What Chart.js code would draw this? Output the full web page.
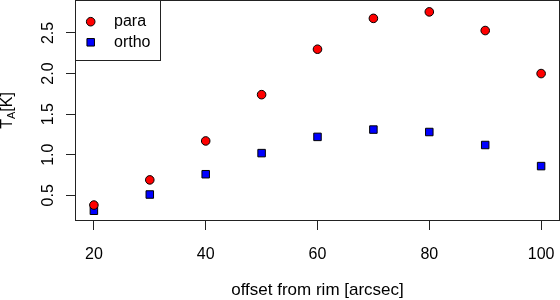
<!DOCTYPE html>
<html>
<head>
<meta charset="utf-8">
<script src="https://cdn.jsdelivr.net/npm/chart.js@4/dist/chart.umd.min.js"></script>
<style>
html,body{margin:0;padding:0;background:#fff;}
canvas{display:block;}
</style>
</head>
<body>
<canvas id="c" width="560" height="300"></canvas>
<script>
// ── DATA ─────────────────────────────
const OFFSETS = [20, 30, 40, 50, 60, 70, 80, 90, 100];
const PARA    = [0.38, 0.69, 1.17, 1.74, 2.30, 2.68, 2.76, 2.53, 2.00];
const ORTHO   = [0.31, 0.51, 0.76, 1.02, 1.22, 1.31, 1.28, 1.12, 0.86];
const X_TICKS = [20, 40, 60, 80, 100];
const Y_TICKS = [0.5, 1.0, 1.5, 2.0, 2.5];
const LABELS  = ['para', 'ortho'];

const FONT = '"Liberation Sans", Arial, sans-serif';
const INK  = '#000';
const BOX  = '#222';

const toPts = ys => OFFSETS.map((x, i) => ({x, y: ys[i]}));
const noPad = s => { s.paddingLeft = 0; s.paddingRight = 0; s.paddingTop = 0; s.paddingBottom = 0; };

// ── EXTRAS: box, rotated y labels, y title, legend ─────────
const extras = {
  id: 'extras',
  afterDraw(chart) {
    const {ctx, chartArea: a, scales: {y}} = chart;
    ctx.save();

    // plot box
    ctx.strokeStyle = BOX;
    ctx.lineWidth = 1;
    ctx.strokeRect(a.left - 0.5, a.top - 0.5, a.right - a.left + 1, a.bottom - a.top + 1);

    // y tick labels, vertical like R
    ctx.fillStyle = INK;
    ctx.font = `16px ${FONT}`;
    ctx.textAlign = 'center';
    ctx.textBaseline = 'alphabetic';
    y.ticks.forEach(t => {
      ctx.save();
      ctx.translate(53, y.getPixelForValue(t.value));
      ctx.rotate(-Math.PI / 2);
      ctx.fillText(t.value.toFixed(1), 0, 0);
      ctx.restore();
    });

    // y title T_A[K]
    const big = `16px ${FONT}`, small = `11px ${FONT}`;
    ctx.save();
    ctx.translate(12, (a.top + a.bottom) / 2);
    ctx.rotate(-Math.PI / 2);
    ctx.textAlign = 'left';
    ctx.font = big;  const wT = ctx.measureText('T').width;
    ctx.font = small; const wA = ctx.measureText('A').width;
    ctx.font = big;  const wK = ctx.measureText('[K]').width;
    let x0 = -(wT + wA + wK) / 2;
    ctx.font = big;   ctx.fillText('T', x0, 0); x0 += wT;
    ctx.font = small; ctx.fillText('A', x0, 3); x0 += wA;
    ctx.font = big;   ctx.fillText('[K]', x0, 0);
    ctx.restore();

    // legend
    const lx = a.left, ly = a.top, lw = 85, lh = 60;
    ctx.fillStyle = '#fff';
    ctx.fillRect(lx, ly, lw, lh);
    ctx.strokeStyle = BOX;
    ctx.strokeRect(lx - 0.5, ly - 0.5, lw, lh);
    chart.data.datasets.forEach((ds, i) => {
      const cy = ly + 20.7 + i * 20.6, cx = lx + 14.7;
      ctx.fillStyle = ds.backgroundColor;
      ctx.strokeStyle = ds.borderColor;
      ctx.lineWidth = 1;
      ctx.beginPath();
      if (ds.pointStyle === 'rect') {
        const s = ds.pointRadius * Math.SQRT1_2;
        ctx.rect(cx - s, cy - s, 2 * s, 2 * s);
      } else {
        ctx.arc(cx, cy, ds.pointRadius, 0, Math.PI * 2);
      }
      ctx.fill(); ctx.stroke();
      ctx.fillStyle = INK;
      ctx.font = `16px ${FONT}`;
      ctx.textAlign = 'left';
      ctx.textBaseline = 'middle';
      ctx.fillText(ds.label, lx + 38, cy);
    });
    ctx.restore();
  }
};

new Chart(document.getElementById('c'), {
  type: 'scatter',
  data: {
    datasets: [
      {label: LABELS[0], data: toPts(PARA), pointStyle: 'circle', pointRadius: 4.3,
       backgroundColor: '#ff0000', borderColor: '#000', borderWidth: 1},
      {label: LABELS[1], data: toPts(ORTHO), pointStyle: 'rect', pointRadius: 5.3,
       backgroundColor: '#0000ff', borderColor: '#000', borderWidth: 1}
    ]
  },
  options: {
    responsive: false,
    animation: false,
    devicePixelRatio: 1,
    layout: {autoPadding: false, padding: {top: 1, right: 1, left: 0, bottom: 0}},
    plugins: {legend: {display: false}, tooltip: {enabled: false}},
    scales: {
      x: {
        type: 'linear', min: 16.8, max: 103.2,
        afterBuildTicks: s => { s.ticks = X_TICKS.map(v => ({value: v})); },
        afterFit: s => { s.height = 80; noPad(s); },
        grid: {display: true, drawOnChartArea: false, drawTicks: true, tickLength: 10, color: BOX},
        border: {display: false},
        ticks: {color: INK, font: {family: FONT, size: 16}, padding: 15, maxRotation: 0,
                callback: v => String(v)},
        title: {display: true, text: 'offset from rim [arcsec]', color: INK,
                font: {family: FONT, size: 17, lineHeight: 1}, padding: {top: 0, bottom: 1}}
      },
      y: {
        type: 'linear', min: 0.196, max: 2.894,
        afterBuildTicks: s => { s.ticks = Y_TICKS.map(v => ({value: v})); },
        afterFit: s => { s.width = 76; noPad(s); },
        grid: {display: true, drawOnChartArea: false, drawTicks: true, tickLength: 10, color: BOX},
        border: {display: false},
        ticks: {display: false}
      }
    }
  },
  plugins: [extras]
});
</script>
</body>
</html>
